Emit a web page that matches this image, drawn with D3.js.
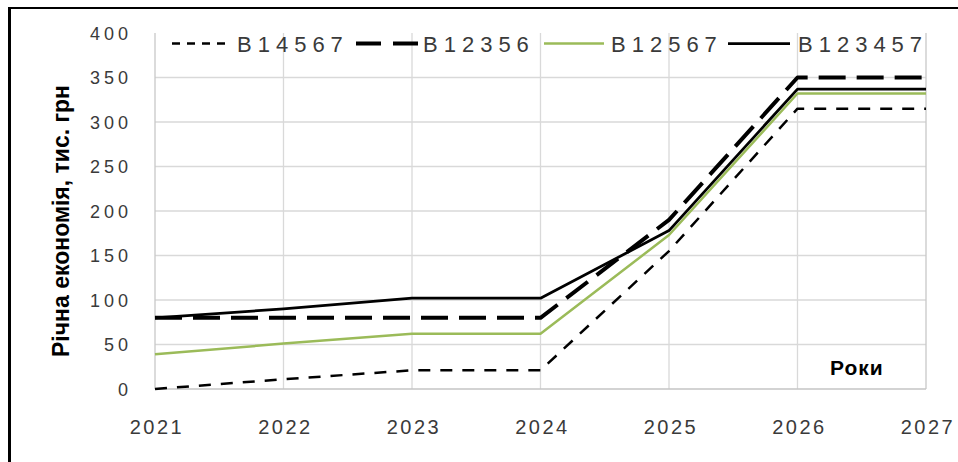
<!DOCTYPE html>
<html>
<head>
<meta charset="utf-8">
<script src="https://cdn.jsdelivr.net/npm/d3@7/dist/d3.min.js"></script>
<style>
  html, body { margin: 0; padding: 0; background: #fff; }
  svg { display: block; }
</style>
</head>
<body>
<svg id="chart" width="958" height="462"></svg>
<script>
// ---- data ----
const years = [2021, 2022, 2023, 2024, 2025, 2026, 2027];
const seriesNames = ["В14567", "В12356", "В12567", "В123457"];
const vB14567  = [0, 11, 21, 21, 155, 315, 315];
const vB12356  = [80, 80, 80, 80, 190, 350, 350];
const vB12567  = [39, 51, 62, 62, 173, 332, 332];
const vB123457 = [80, 90, 102, 102, 178, 337, 337];
const yTicks = [0, 50, 100, 150, 200, 250, 300, 350, 400];
const yTitle = "Річна економія, тис. грн";
const xTitle = "Роки";

const seriesValues = [vB14567, vB12356, vB12567, vB123457];
const styles = [
  { color: "#000", width: 2.5, dash: "12,10", legendDash: "8,7" },
  { color: "#000", width: 4,   dash: "27,11", legendDash: "25,12" },
  { color: "#9BBB59", width: 2.5, dash: null, legendDash: null },
  { color: "#000", width: 2.75, dash: null, legendDash: null }
];

const svg = d3.select("#chart");
const x = d3.scaleLinear().domain([2021, 2027]).range([155, 926]);
const y = d3.scaleLinear().domain([0, 400]).range([389, 33]);

// frame
svg.append("line").attr("x1", 9.5).attr("x2", 9.5).attr("y1", 7).attr("y2", 462)
  .attr("stroke", "#000").attr("stroke-width", 3);
svg.append("line").attr("x1", 8).attr("x2", 958).attr("y1", 8).attr("y2", 8)
  .attr("stroke", "#000").attr("stroke-width", 2);

// grid
const grid = svg.append("g");
grid.selectAll("line.h").data(yTicks.filter(d => d > 0 && d < 400)).enter().append("line")
  .attr("x1", x(2021)).attr("x2", x(2027))
  .attr("y1", d => y(d)).attr("y2", d => y(d))
  .attr("stroke", "#d9d9d9").attr("stroke-width", 1.3);
grid.selectAll("line.v").data(years).enter().append("line")
  .attr("x1", d => x(d)).attr("x2", d => x(d))
  .attr("y1", y(400)).attr("y2", y(0))
  .attr("stroke", d => (d === 2021 || d === 2027) ? "#c8c8c8" : "#d9d9d9")
  .attr("stroke-width", 1.3);
grid.append("line").attr("x1", x(2021)).attr("x2", x(2027))
  .attr("y1", y(0)).attr("y2", y(0)).attr("stroke", "#c4c4c4").attr("stroke-width", 1.5);

// axes labels via d3 axes
const yAxis = d3.axisLeft(y).tickValues(yTicks).tickSize(0).tickPadding(0);
const gy = svg.append("g").attr("transform", "translate(132,0)").call(yAxis);
gy.select(".domain").remove();
gy.selectAll("text").attr("font-family", "Liberation Sans, Arial, sans-serif")
  .attr("font-size", 18).attr("letter-spacing", 4).attr("fill", "#3a3a3a")
  .attr("dy", "0.36em");

const xAxis = d3.axisBottom(x).tickValues(years).tickFormat(d3.format("d")).tickSize(0).tickPadding(0);
const gx = svg.append("g").attr("transform", "translate(1.5,420)").call(xAxis);
gx.select(".domain").remove();
gx.selectAll("text").attr("font-family", "Liberation Sans, Arial, sans-serif")
  .attr("font-size", 20).attr("letter-spacing", 2.5).attr("fill", "#3a3a3a")
  .attr("dy", "0.72em");

// series lines
const line = d3.line().x((d, i) => x(years[i])).y(d => y(d));
seriesValues.forEach((vals, i) => {
  const s = styles[i];
  svg.append("path").datum(vals).attr("d", line)
    .attr("fill", "none").attr("stroke", s.color).attr("stroke-width", s.width)
    .attr("stroke-dasharray", s.dash).attr("stroke-linejoin", "round");
});

// legend
const legX = [172, 356, 544, 728];
const legLen = [57, 62, 60, 62];
const legTextX = [237, 423, 611, 798];
const leg = svg.append("g");
seriesNames.forEach((name, i) => {
  const s = styles[i];
  leg.append("line").attr("x1", legX[i]).attr("x2", legX[i] + legLen[i])
    .attr("y1", 43.5).attr("y2", 43.5)
    .attr("stroke", s.color).attr("stroke-width", s.width)
    .attr("stroke-dasharray", s.legendDash);
  leg.append("text").attr("x", legTextX[i]).attr("y", 52)
    .attr("font-family", "Liberation Sans, Arial, sans-serif")
    .attr("font-size", 22).attr("letter-spacing", 6).attr("fill", "#3a3a3a")
    .text(name);
});

// titles
svg.append("text").attr("transform", "translate(69,221) rotate(-90)")
  .attr("text-anchor", "middle")
  .attr("font-family", "Liberation Sans, Arial, sans-serif")
  .attr("font-weight", "bold").attr("font-size", 23).attr("fill", "#000")
  .text(yTitle);
svg.append("text").attr("x", 830).attr("y", 375)
  .attr("font-family", "Liberation Sans, Arial, sans-serif")
  .attr("font-weight", "bold").attr("font-size", 21).attr("letter-spacing", 1).attr("fill", "#000")
  .text(xTitle);
</script>
</body>
</html>
